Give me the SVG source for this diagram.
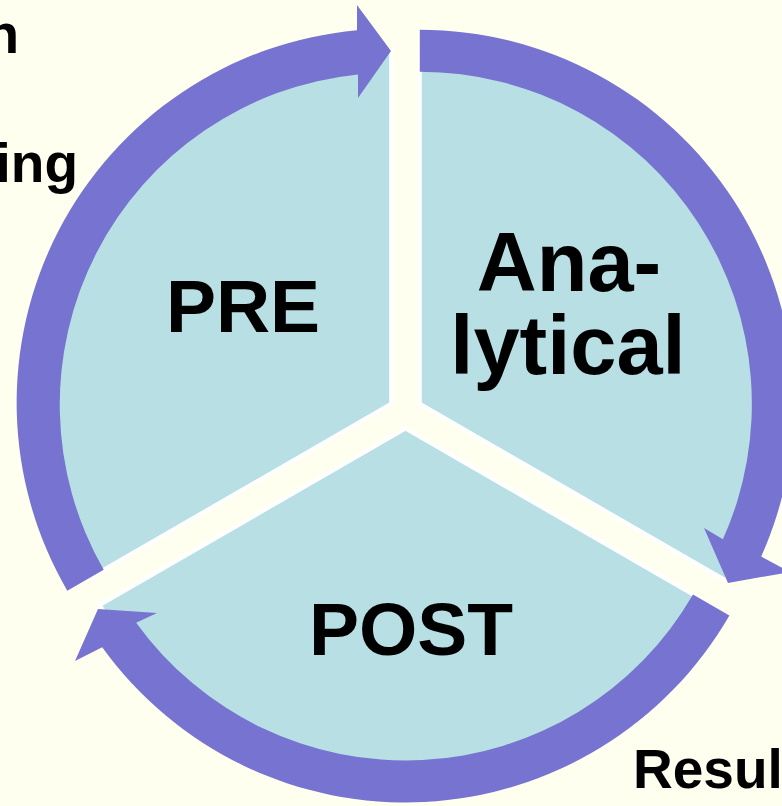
<svg xmlns="http://www.w3.org/2000/svg" width="782" height="806" viewBox="0 0 782 806">
<style>
.sector{fill:#B8E0E4;stroke:#FFFFFF;stroke-width:4;stroke-linejoin:miter}
.arrow{fill:#7674D0;stroke:none}
.lbl{font-family:"Liberation Sans",Arial,sans-serif;font-weight:bold;fill:#000000}
.big{font-size:75px;text-anchor:middle}
.ana{font-size:83px;text-anchor:middle}
.side{font-size:55px}
</style>
<rect width="782" height="806" fill="#FFFFF0"/>
<g id="pre">
<path class="sector" d="M391.2 403.75 L85.5 580.25 A353 353 0 0 1 391.2 50.75 Z"/>
<text class="lbl big" x="243" y="332">PRE</text>
</g>
<g id="analytical">
<path class="sector" d="M419.8 403.75 L419.8 50.75 A353 353 0 0 1 725.5 580.25 Z"/>
<text class="lbl ana" x="569" y="291">Ana-</text>
<text class="lbl ana" x="568" y="374">lytical</text>
</g>
<g id="post">
<path class="sector" d="M405.5 428.5 L711.2 605 A353 353 0 0 1 99.8 605 Z"/>
<text class="lbl big" x="411" y="655">POST</text>
</g>
<g id="connectors">
<path class="arrow" d="M67.3 590.75 A374 374 0 0 1 357 30.3 L357 5 L391 51 L358 98 L358 74.4 A332 332 0 0 0 103.7 569.75 Z"/>
<path class="arrow" d="M419.8 29.75 A374 374 0 0 1 761.2 556.5 L790 572 L728 583 L704 528 L722.9 539.3 A332 332 0 0 0 419.8 71.75 Z"/>
<path class="arrow" d="M729.4 615.5 A374 374 0 0 1 102.2 647.3 L75 661 L98 609 L157 613 L136.2 622.7 A332 332 0 0 0 693 594.5 Z"/>
</g>
<g id="side-labels">
<text class="lbl side" x="19" y="53" text-anchor="end">n</text>
<text class="lbl side" x="78" y="182" text-anchor="end">ing</text>
<text class="lbl side" x="633" y="788">Result</text>
</g>
</svg>
